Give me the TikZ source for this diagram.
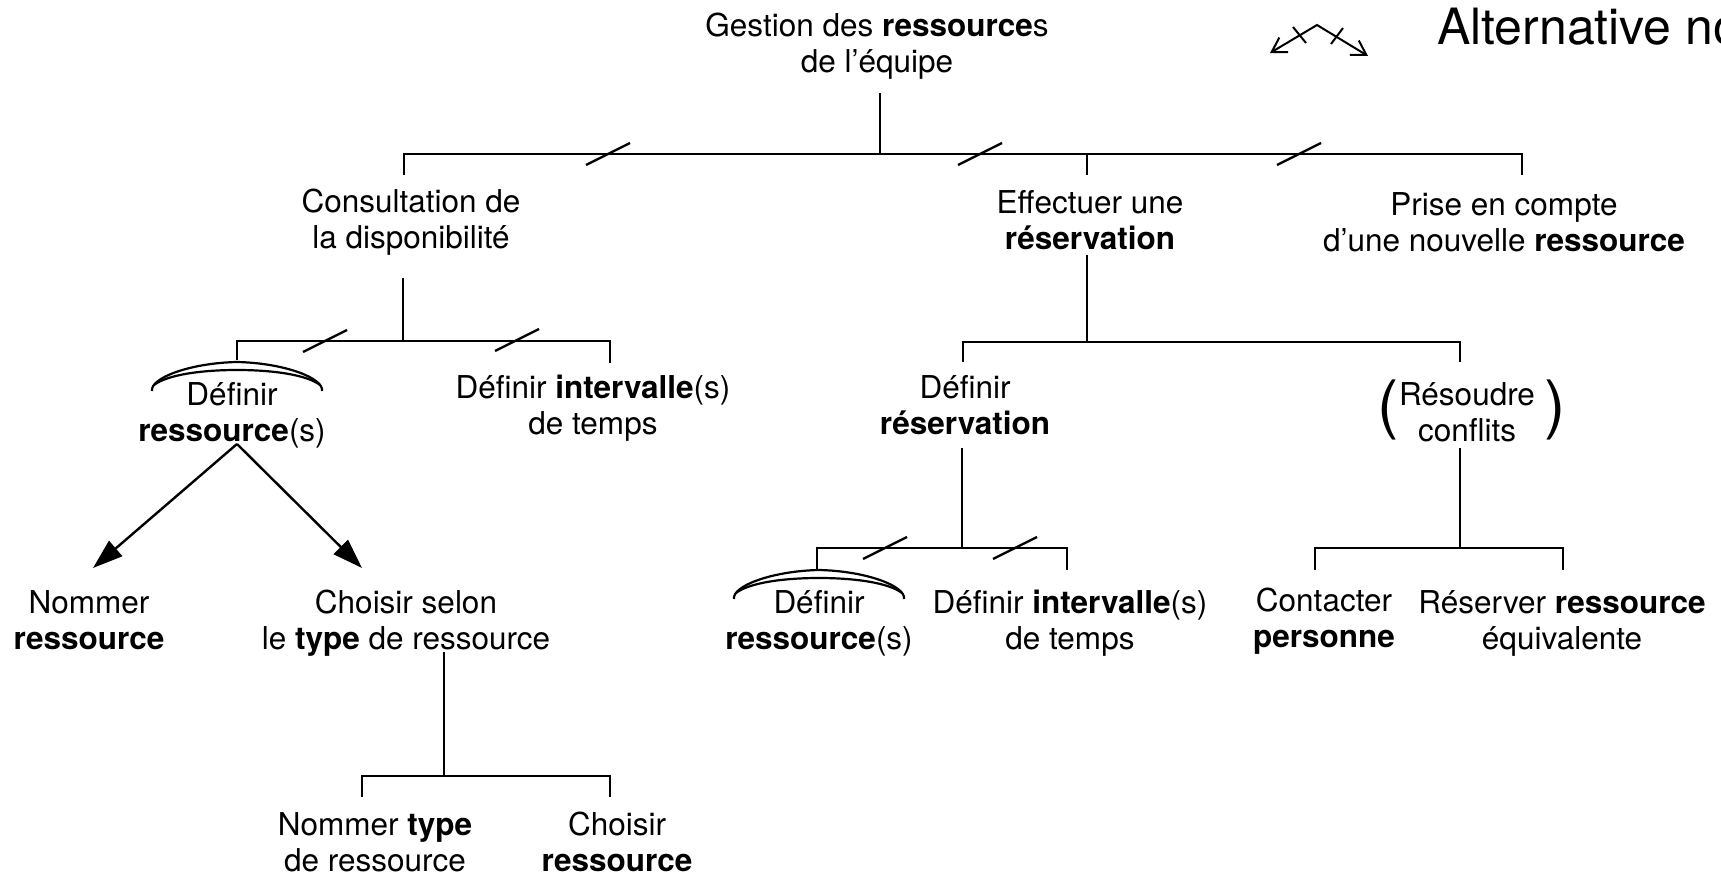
\documentclass[tikz,border=0pt]{standalone}
\usepackage{fontspec}
\setmainfont{TeX Gyre Heros}
\usetikzlibrary{arrows.meta}
\begin{document}
\begin{tikzpicture}[x=1pt,y=-1pt,
  txt/.style={anchor=base,align=center,inner sep=0pt,font=\fontsize{31.5}{36}\selectfont},
  ln/.style={line width=2.4pt},
  slashmk/.pic={\draw[line width=2.4pt] (-22,11) -- (22,-11);},
  dblarc/.pic={\draw[line width=2.2pt] (-85,29) .. controls (-87,16) and (-47,1) .. (0,0) .. controls (47,1) and (87,16) .. (85,29);
               \draw[line width=2.2pt] (-83,23) .. controls (-70,13) and (-37,8) .. (0,8) .. controls (37,8) and (70,13) .. (83,23);},
  bigarrow/.style={ln,-{Triangle[length=30pt,width=20pt]}},
  altarrow/.style={line width=2pt,{Straight Barb[length=14pt,width=17pt]}-{Straight Barb[length=14pt,width=17pt]}},
  paren/.style={inner sep=0pt,font=\fontsize{64}{64}\selectfont}
]
\useasboundingbox (0,0) rectangle (1721,875);

% texts (anchor = baseline of last line)
\node[txt] (root) at (877,73) {Gestion des \textbf{ressource}s\\de l’équipe};
\node[txt] (consult) at (411,248) {Consultation de\\la disponibilité};
\node[txt] (effect) at (1090,249) {Effectuer une\\\textbf{réservation}};
\node[txt] (prise) at (1504,251) {Prise en compte\\d’une nouvelle \textbf{ressource}};
\node[txt] (defres1) at (232,441) {Définir\\\textbf{ressource}(s)};
\node[txt] (definter1) at (593,434) {Définir \textbf{intervalle}(s)\\de temps};
\node[txt] (defresv) at (965,434) {Définir\\\textbf{réservation}};
\node[txt] (resoudre) at (1467,441) {Résoudre\\conflits};
\node[paren,anchor=base west] (lpar) at (1377,426) {(};
\node[paren,anchor=base east] (rpar) at (1566,426) {)};
\node[txt] (nomres) at (89,649) {Nommer\\\textbf{ressource}};
\node[txt] (choisirtype) at (406,649) {Choisir selon\\le \textbf{type} de ressource};
\node[txt] (defres2) at (819,649) {Définir\\\textbf{ressource}(s)};
\node[txt] (definter2) at (1070,649) {Définir \textbf{intervalle}(s)\\de temps};
\node[txt] (contact) at (1324,647) {Contacter\\\textbf{personne}};
\node[txt] (reserver) at (1562,649) {Réserver \textbf{ressource}\\équivalente};
\node[txt] (nomtype) at (375,871) {Nommer \textbf{type}\\de ressource};
\node[txt] (choisirres) at (617,871) {Choisir\\\textbf{ressource}};
\node[anchor=base west,inner sep=0pt,font=\fontsize{50}{55}\selectfont] (alt) at (1437,45) {Alternative no};

% junction coordinates
\coordinate (r0) at (880,93);   \coordinate (r1) at (880,154);
\coordinate (b0l) at (404,154); \coordinate (b0m) at (1087,154); \coordinate (b0r) at (1522,154);
\coordinate (c0) at (403,278);  \coordinate (c1) at (403,341);
\coordinate (b1l) at (237,341); \coordinate (b1r) at (610,341);
\coordinate (e0) at (1087,255); \coordinate (e1) at (1087,342);
\coordinate (b2l) at (963,342); \coordinate (b2r) at (1460,342);
\coordinate (v0) at (962,448);  \coordinate (v1) at (962,548);
\coordinate (b3l) at (817,548); \coordinate (b3r) at (1067,548);
\coordinate (s0) at (1460,448); \coordinate (s1) at (1460,548);
\coordinate (b4l) at (1315,548); \coordinate (b4r) at (1563,548);
\coordinate (t0) at (444,652);  \coordinate (t1) at (444,776);
\coordinate (b5l) at (362,776); \coordinate (b5r) at (610,776);
\coordinate (apex) at (237,444);
\coordinate (tipl) at (93,568); \coordinate (tipr) at (362,568);

% level 0
\draw[ln] (r0) -- (r1);
\draw[ln] (b0l) ++(0,21) -- (b0l) -- (b0r) -- ++(0,21);
\draw[ln] (b0m) -- ++(0,21);
\pic at (608,154) {slashmk};
\pic at (980,154) {slashmk};
\pic at (1299,154) {slashmk};

% consultation
\draw[ln] (c0) -- (c1);
\draw[ln] (b1l) ++(0,19) -- (b1l) -- (b1r) -- ++(0,22);
\pic at (325,341) {slashmk};
\pic at (517,340) {slashmk};
\pic at (237,362) {dblarc};

% arrows
\draw[bigarrow] (apex) -- (tipl);
\draw[bigarrow] (apex) -- (tipr);

% choisir selon type
\draw[ln] (t0) -- (t1);
\draw[ln] (b5l) ++(0,21) -- (b5l) -- (b5r) -- ++(0,21);

% effectuer
\draw[ln] (e0) -- (e1);
\draw[ln] (b2l) ++(0,20) -- (b2l) -- (b2r) -- ++(0,20);

% definir reservation
\draw[ln] (v0) -- (v1);
\draw[ln] (b3l) ++(0,22) -- (b3l) -- (b3r) -- ++(0,22);
\pic at (885,548) {slashmk};
\pic at (1015,548) {slashmk};
\pic at (819,570) {dblarc};

% resoudre
\draw[ln] (s0) -- (s1);
\draw[ln] (b4l) ++(0,22) -- (b4l) -- (b4r) -- ++(0,22);

% legend symbol
\coordinate (la) at (1270,53); \coordinate (lapex) at (1317,25); \coordinate (lb) at (1368,56);
\draw[altarrow] (la) -- (lapex) -- (lb);
\draw[line width=2pt] (1293,27) -- (1306,43);
\draw[line width=2pt] (1343,28) -- (1331,44);
\end{tikzpicture}
\end{document}
